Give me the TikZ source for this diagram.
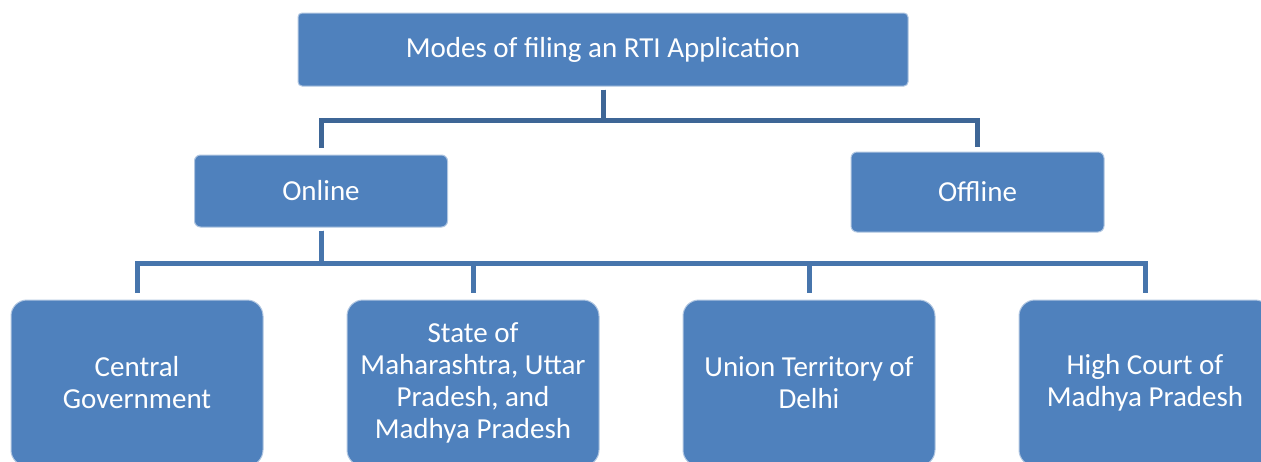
\documentclass[tikz,border=0pt]{standalone}
\usepackage{fontspec}
\setmainfont{Carlito}
\definecolor{boxblue}{HTML}{4F81BD}
\definecolor{linkdark}{HTML}{3E6696}
\definecolor{linkblue}{HTML}{4775AC}
\tikzset{
  box/.style={fill=boxblue, draw=boxblue!45!white, line width=1pt, text=white, align=center, inner sep=0pt, font=\fontsize{29}{32}\selectfont},
  headbox/.style={box, rounded corners=4pt, minimum width=610pt, minimum height=73pt},
  modebox/.style={box, rounded corners=6pt, minimum width=253pt},
  leafbox/.style={box, rounded corners=16pt, minimum width=252pt, minimum height=166pt},
  link/.style={line width=5pt, shorten <=3pt, shorten >=7pt}
}
\begin{document}
\begin{tikzpicture}[x=1pt,y=-1pt]
  \useasboundingbox (0,0) rectangle (1261,461);
  \clip (0,0) rectangle (1261,461);
  \node[headbox] (modes) at (603,49.5) {Modes of filing an RTI Application};
  \node[modebox, minimum height=72pt] (online) at (321,191) {Online};
  \node[modebox, minimum height=80pt] (offline) at (977.5,192) {Offline};
  \node[leafbox] (central) at (137,383) {Central\\Government};
  \node[leafbox] (state) at (473,383) {State of\\Maharashtra, Uttar\\Pradesh, and\\Madhya Pradesh};
  \node[leafbox] (delhi) at (809,383) {Union Territory of\\Delhi};
  \node[leafbox] (court) at (1145,383) {High Court of\\Madhya Pradesh};
  \draw[link, linkdark] (modes.south) -- ++(0,34) -| (online.north);
  \draw[link, linkdark, shorten >=5pt] (modes.south) -- ++(0,34) -| (offline.north);
  \draw[link, linkblue] (online.south) -- ++(0,36) -| (central.north);
  \draw[link, linkblue] (online.south) -- ++(0,36) -| (state.north);
  \draw[link, linkblue] (online.south) -- ++(0,36) -| (delhi.north);
  \draw[link, linkblue] (online.south) -- ++(0,36) -| (court.north);
\end{tikzpicture}
\end{document}
